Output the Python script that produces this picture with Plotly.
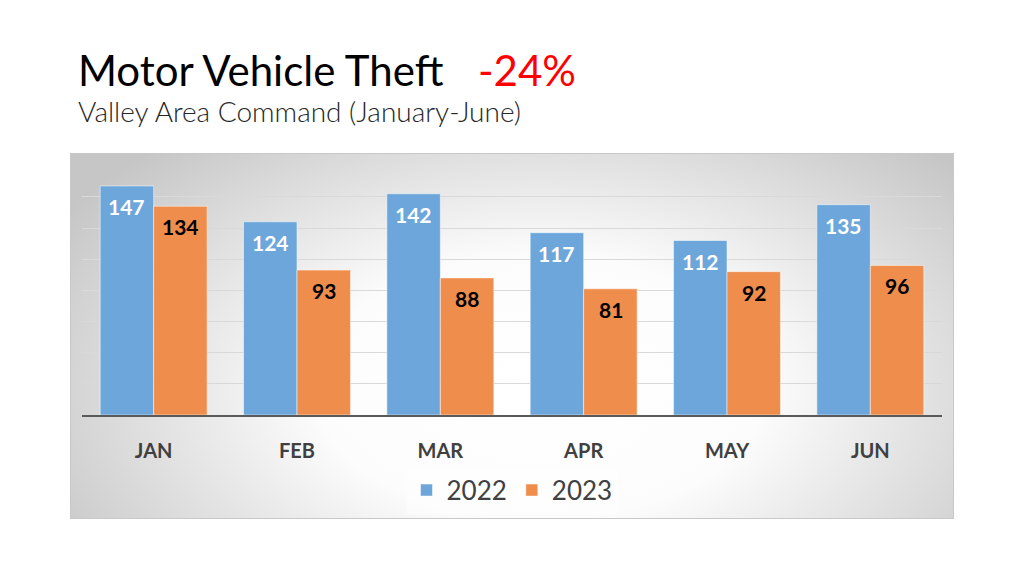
import base64
import plotly.graph_objects as go

months = ["JAN", "FEB", "MAR", "APR", "MAY", "JUN"]
thefts_2022 = [147, 124, 142, 117, 112, 135]
thefts_2023 = [134, 93, 88, 81, 92, 96]

blue = "#6CA6DA"
orange = "#EE8D4C"
font = "Lato"

# radial grey backdrop of the chart box, drawn as an inline svg
svg = (
    '<svg xmlns="http://www.w3.org/2000/svg" width="884" height="366">'
    '<defs><radialGradient id="g" gradientUnits="userSpaceOnUse" cx="0" cy="0" r="1" '
    'gradientTransform="translate(470 235) scale(560 330)">'
    '<stop offset="0" stop-color="#ffffff"/>'
    '<stop offset="0.4" stop-color="#fcfcfc"/>'
    '<stop offset="1" stop-color="#c6c6c6"/>'
    '</radialGradient></defs>'
    '<rect x="0.5" y="0.5" width="883" height="365" fill="url(#g)" stroke="#c8c8c8"/>'
    '</svg>'
)
bg_src = "data:image/svg+xml;base64," + base64.b64encode(svg.encode()).decode()

fig = go.Figure()

fig.add_trace(go.Bar(
    x=months, y=thefts_2022, name="2022",
    marker=dict(color=blue, line=dict(color="white", width=0.5)),
))
fig.add_trace(go.Bar(
    x=months, y=thefts_2023, name="2023",
    marker=dict(color=orange, line=dict(color="white", width=0.5)),
))

# value labels just inside the top of each bar
labels = []
for m, v in zip(months, thefts_2022):
    labels.append(dict(
        x=m, y=v, text=str(v), xshift=-27, yshift=-6, yanchor="top",
        showarrow=False, font=dict(family=font, size=21, color="white", weight="bold"),
    ))
for m, v in zip(months, thefts_2023):
    labels.append(dict(
        x=m, y=v, text=str(v), xshift=27, yshift=-6, yanchor="top",
        showarrow=False, font=dict(family=font, size=21, color="black", weight="bold"),
    ))

fig.update_layout(
    width=1024, height=576,
    margin=dict(l=0, r=0, t=0, b=0),
    paper_bgcolor="white",
    plot_bgcolor="rgba(0,0,0,0)",
    barmode="group",
    bargap=0.254,
    bargroupgap=0,
    font=dict(family=font, color="#404040"),
    legend=dict(
        orientation="h", x=0.5, xanchor="center", y=0.149, yanchor="middle",
        font=dict(size=26, color="#404040"),
        bgcolor="rgba(255,255,255,0.45)",
        itemwidth=30,
    ),
    images=[dict(
        source=bg_src, xref="paper", yref="paper",
        x=70 / 1024, y=1 - 153 / 576, sizex=884 / 1024, sizey=366 / 576,
        xanchor="left", yanchor="top", sizing="stretch", layer="below",
    )],
    annotations=labels + [
        dict(
            text="Motor Vehicle Theft",
            xref="paper", yref="paper", x=76 / 1024, y=1 - 70 / 576,
            xanchor="left", yanchor="middle", showarrow=False,
            font=dict(family=font, size=42, color="black"),
        ),
        dict(
            text="-24%",
            xref="paper", yref="paper", x=476 / 1024, y=1 - 70 / 576,
            xanchor="left", yanchor="middle", showarrow=False,
            font=dict(family=font, size=42, color="#FF0000"),
        ),
        dict(
            text="Valley Area Command (January-June)",
            xref="paper", yref="paper", x=76 / 1024, y=1 - 111 / 576,
            xanchor="left", yanchor="middle", showarrow=False,
            font=dict(family=font, size=28, color="#262626", weight=300),
        ),
    ],
)

fig.update_xaxes(
    domain=[82 / 1024, 942 / 1024],
    showgrid=False,
    showline=True, linecolor="#5a5a5a", linewidth=1.5,
    ticks="", ticklabelstandoff=17,
    tickfont=dict(family=font, size=20, color="#404040", weight="bold"),
)
fig.update_yaxes(
    domain=[1 - 415 / 576, 1 - 181.3 / 576],
    range=[0, 150], dtick=20,
    showticklabels=False,
    showgrid=True, gridcolor="#d9d9d9", gridwidth=1,
    zeroline=False,
)

fig.write_html(
    "out.html",
    config={"displayModeBar": False},
    post_script="document.body.style.margin = '0';",
)
